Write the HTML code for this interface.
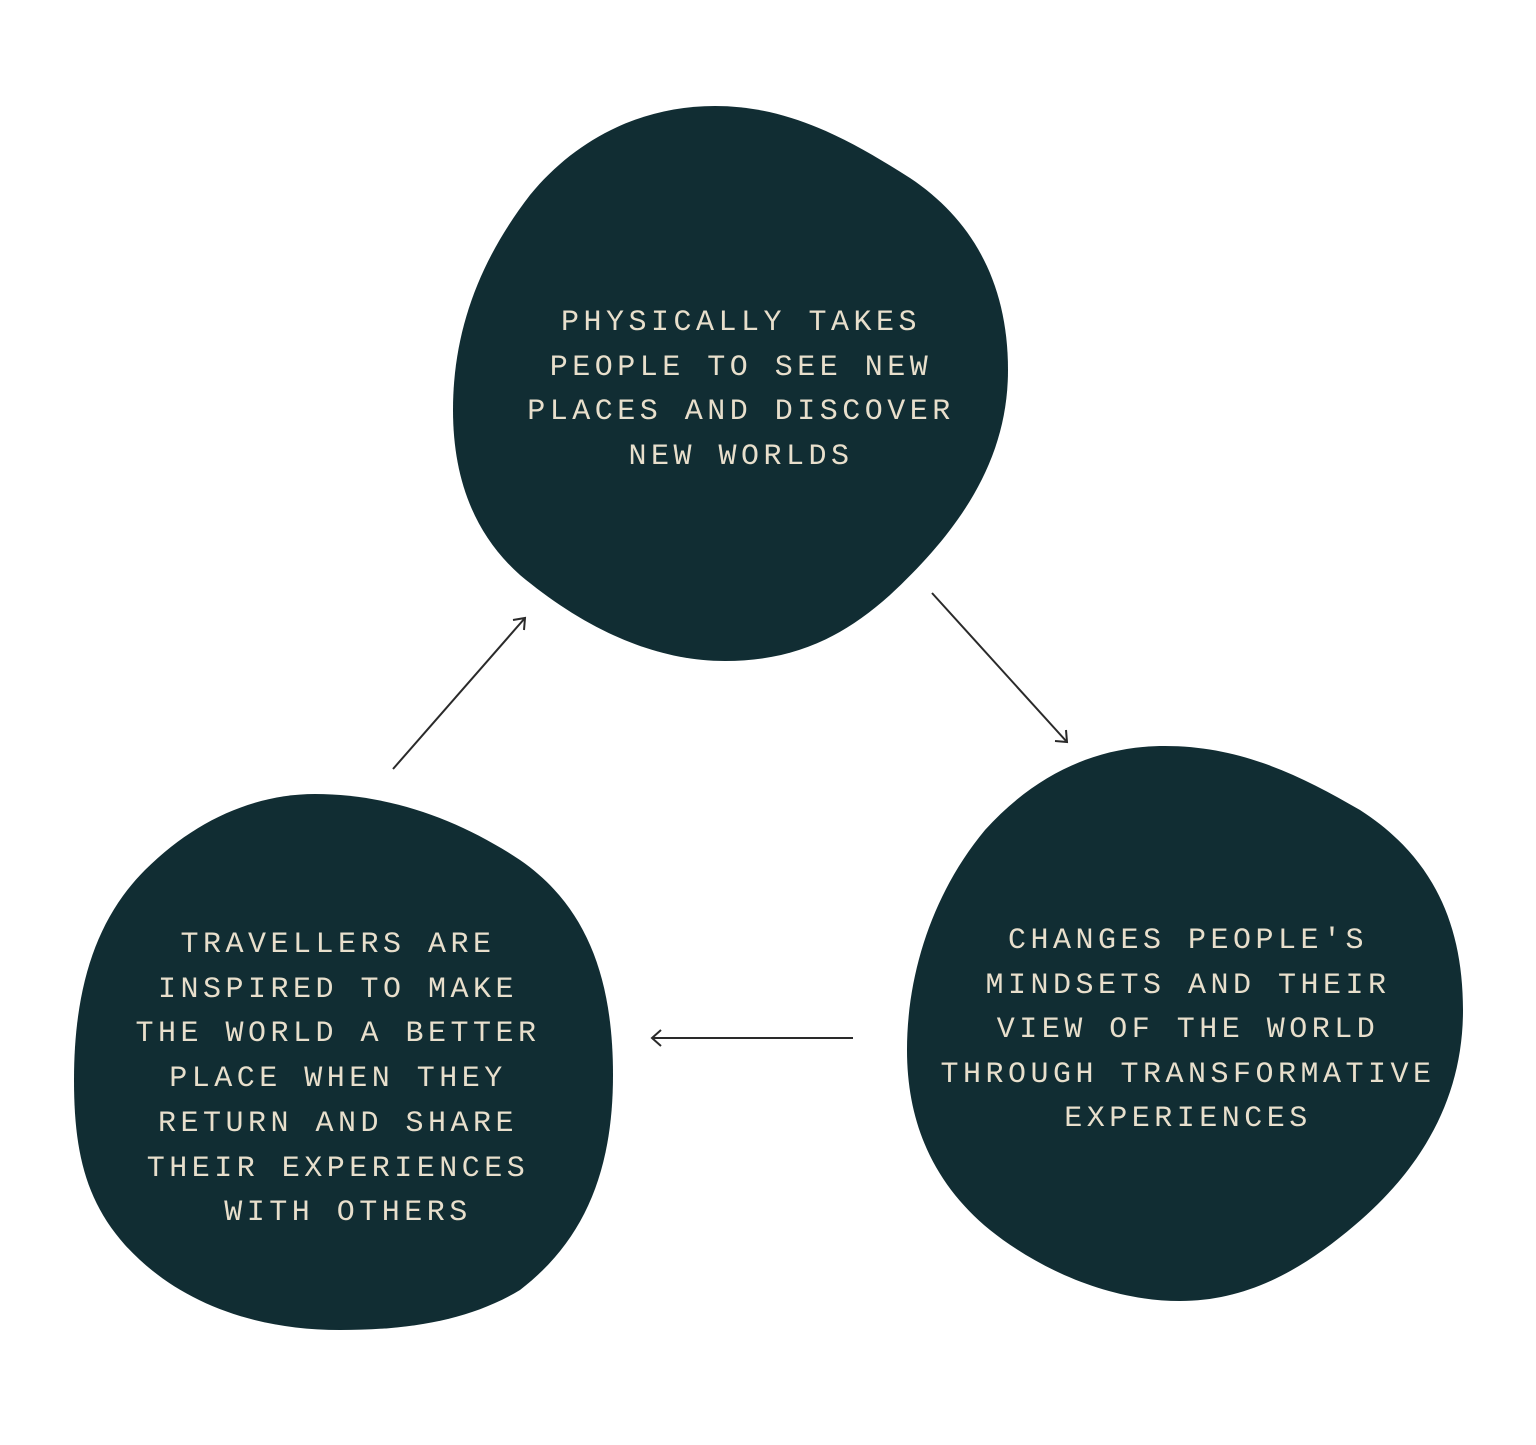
<!DOCTYPE html>
<html><head><style>html,body{margin:0;padding:0;background:#fff}svg{display:block}</style></head>
<body>
<svg width="1536" height="1445" viewBox="0 0 1536 1445" xmlns="http://www.w3.org/2000/svg">
<g fill="#112d33">
<path d="M715,106 C790,106 850,140 910,178 C970,218 1008,280 1008,370 C1008,460 960,530 890,595 C840,640 790,661 725,661 C650,661 580,625 520,575 C475,535 453,480 453,410 C453,330 480,260 530,195 C575,140 640,106 715,106 Z"/>
<path d="M315,794 C390,794 460,820 520,860 C585,905 613,975 613,1075 C613,1170 585,1240 520,1290 C470,1320 410,1330 340,1330 C250,1330 175,1300 125,1245 C85,1200 74,1150 74,1080 C74,990 95,920 145,870 C195,820 255,794 315,794 Z"/>
<path d="M1165,746 C1240,746 1300,775 1360,810 C1430,855 1463,920 1463,1010 C1463,1100 1420,1170 1355,1225 C1300,1272 1245,1301 1180,1301 C1110,1301 1040,1270 990,1230 C935,1185 907,1125 907,1050 C907,970 935,890 985,830 C1035,775 1095,746 1165,746 Z"/>
</g>
<g fill="#e8dfcc" font-family="'Liberation Mono', monospace" font-size="30" letter-spacing="4.5" text-anchor="middle">
<text x="741" y="330">PHYSICALLY TAKES</text>
<text x="741" y="375">PEOPLE TO SEE NEW</text>
<text x="741" y="419">PLACES AND DISCOVER</text>
<text x="741" y="464">NEW WORLDS</text>
<text x="338" y="952">TRAVELLERS ARE</text>
<text x="338" y="997">INSPIRED TO MAKE</text>
<text x="338" y="1041">THE WORLD A BETTER</text>
<text x="338" y="1086">PLACE WHEN THEY</text>
<text x="338" y="1131">RETURN AND SHARE</text>
<text x="338" y="1176">THEIR EXPERIENCES</text>
<text x="348" y="1220">WITH OTHERS</text>
<text x="1188" y="948">CHANGES PEOPLE'S</text>
<text x="1188" y="993">MINDSETS AND THEIR</text>
<text x="1188" y="1037">VIEW OF THE WORLD</text>
<text x="1188" y="1082">THROUGH TRANSFORMATIVE</text>
<text x="1188" y="1126">EXPERIENCES</text>
</g>
<g stroke="#2a2a2a" stroke-width="2" fill="none">
<line x1="393" y1="769" x2="525" y2="618"/>
<polyline points="513,620 525,618 524,630"/>
<line x1="932" y1="593" x2="1067" y2="742"/>
<polyline points="1055,741 1067,742 1066,730"/>
<line x1="853" y1="1038" x2="652" y2="1038"/>
<polyline points="661,1030 652,1038 661,1046"/>
</g>
</svg>
</body></html>
